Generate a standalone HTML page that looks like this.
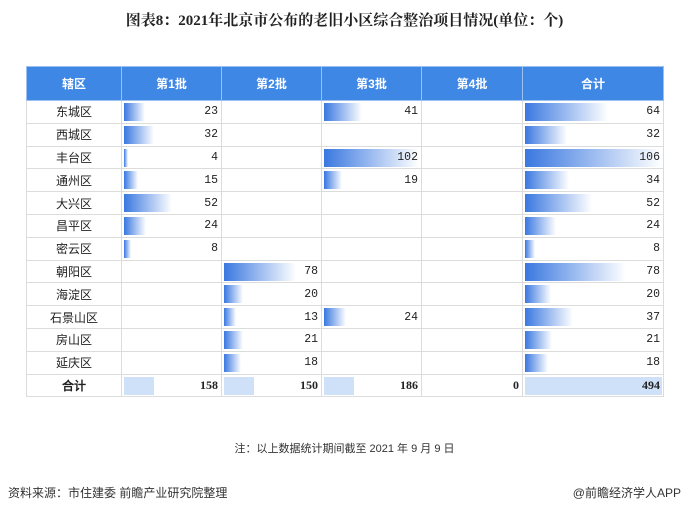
<!DOCTYPE html>
<html><head><meta charset="utf-8"><style>
body{margin:0;width:689px;height:511px;background:#fff;font-family:"Liberation Sans","Noto Sans CJK SC",sans-serif;position:relative;overflow:hidden}
.t{position:absolute;left:0;width:689px;top:9px;text-align:center;font-weight:bold;font-size:15px;font-family:"Liberation Serif","Noto Serif CJK SC",serif;color:#222}
table{position:absolute;left:26px;top:66px;border-collapse:collapse;table-layout:fixed;font-size:12px}
td,th{padding:0;border:1px solid #dcdcdc;position:relative}
th{background:#3f87e5;color:#fff;height:33px;font-size:12px;border-color:#9cc0ef}
td{height:21.8px}
td.n{text-align:center;color:#222}
td.v{text-align:right;padding-right:3px;font-family:"Liberation Mono",monospace;font-size:11.5px;color:#222}
td.v span{position:relative}
.b{position:absolute;left:2px;top:2px;height:18px;background:linear-gradient(to right,#3a78e0,#fff)}
.tb{position:absolute;left:2px;top:2px;height:18px;width:30px;background:#cfe0f9}
tr.tot td{font-weight:bold;font-family:"Liberation Serif",serif;font-size:12px}
.note{position:absolute;top:440px;left:0;width:689px;text-align:center;font-size:11px;color:#333}
.src{position:absolute;top:484px;left:8px;font-size:12px;color:#333}
.app{position:absolute;top:484px;right:8px;font-size:12px;color:#333}
</style></head><body>
<div class="t">图表8：2021年北京市公布的老旧小区综合整治项目情况(单位：个)</div>
<table>
<colgroup><col style="width:95px"><col style="width:100px"><col style="width:100px"><col style="width:100px"><col style="width:101px"><col style="width:141px"></colgroup>
<tr><th>辖区</th><th>第1批</th><th>第2批</th><th>第3批</th><th>第4批</th><th>合计</th></tr>
<tr><td class="n">东城区</td><td class="v"><div class="b" style="width:21px"></div><span>23</span></td><td></td><td class="v"><div class="b" style="width:38px"></div><span>41</span></td><td></td><td class="v"><div class="b" style="width:83px"></div><span>64</span></td></tr>
<tr><td class="n">西城区</td><td class="v"><div class="b" style="width:30px"></div><span>32</span></td><td></td><td></td><td></td><td class="v"><div class="b" style="width:42px"></div><span>32</span></td></tr>
<tr><td class="n">丰台区</td><td class="v"><div class="b" style="width:4px"></div><span>4</span></td><td></td><td class="v"><div class="b" style="width:95px"></div><span>102</span></td><td></td><td class="v"><div class="b" style="width:137px"></div><span>106</span></td></tr>
<tr><td class="n">通州区</td><td class="v"><div class="b" style="width:14px"></div><span>15</span></td><td></td><td class="v"><div class="b" style="width:18px"></div><span>19</span></td><td></td><td class="v"><div class="b" style="width:44px"></div><span>34</span></td></tr>
<tr><td class="n">大兴区</td><td class="v"><div class="b" style="width:48px"></div><span>52</span></td><td></td><td></td><td></td><td class="v"><div class="b" style="width:67px"></div><span>52</span></td></tr>
<tr><td class="n">昌平区</td><td class="v"><div class="b" style="width:22px"></div><span>24</span></td><td></td><td></td><td></td><td class="v"><div class="b" style="width:31px"></div><span>24</span></td></tr>
<tr><td class="n">密云区</td><td class="v"><div class="b" style="width:7px"></div><span>8</span></td><td></td><td></td><td></td><td class="v"><div class="b" style="width:10px"></div><span>8</span></td></tr>
<tr><td class="n">朝阳区</td><td></td><td class="v"><div class="b" style="width:72px"></div><span>78</span></td><td></td><td></td><td class="v"><div class="b" style="width:101px"></div><span>78</span></td></tr>
<tr><td class="n">海淀区</td><td></td><td class="v"><div class="b" style="width:19px"></div><span>20</span></td><td></td><td></td><td class="v"><div class="b" style="width:26px"></div><span>20</span></td></tr>
<tr><td class="n">石景山区</td><td></td><td class="v"><div class="b" style="width:12px"></div><span>13</span></td><td class="v"><div class="b" style="width:22px"></div><span>24</span></td><td></td><td class="v"><div class="b" style="width:48px"></div><span>37</span></td></tr>
<tr><td class="n">房山区</td><td></td><td class="v"><div class="b" style="width:19px"></div><span>21</span></td><td></td><td></td><td class="v"><div class="b" style="width:27px"></div><span>21</span></td></tr>
<tr><td class="n">延庆区</td><td></td><td class="v"><div class="b" style="width:17px"></div><span>18</span></td><td></td><td></td><td class="v"><div class="b" style="width:23px"></div><span>18</span></td></tr>
<tr class="tot"><td class="n">合计</td><td class="v"><div class="tb"></div><span>158</span></td><td class="v"><div class="tb"></div><span>150</span></td><td class="v"><div class="tb"></div><span>186</span></td><td class="v"><span>0</span></td><td class="v"><div class="tb" style="width:137px"></div><span>494</span></td></tr>
</table>
<div class="note">注：以上数据统计期间截至 2021 年 9 月 9 日</div>
<div class="src">资料来源：市住建委 前瞻产业研究院整理</div>
<div class="app">@前瞻经济学人APP</div>
</body></html>
